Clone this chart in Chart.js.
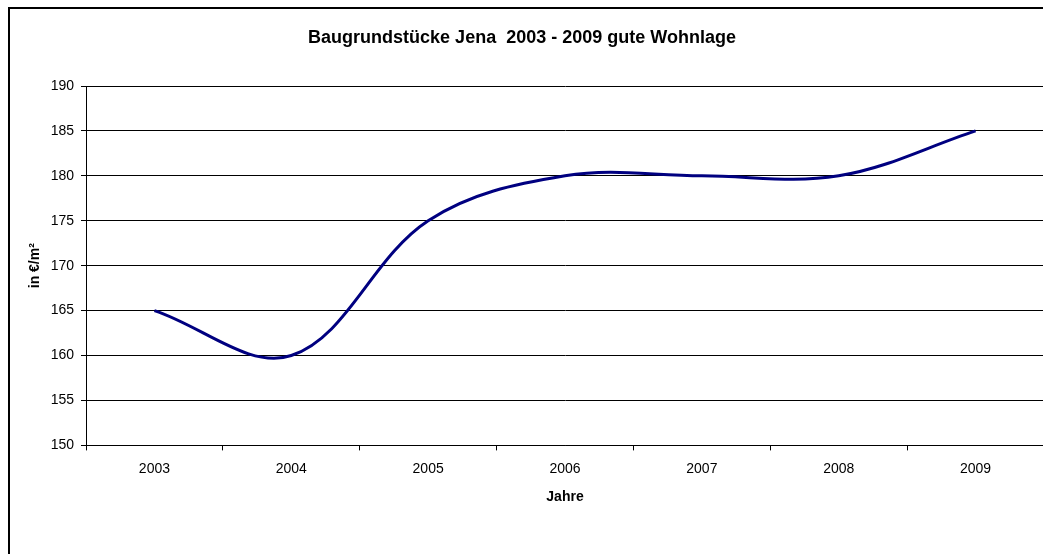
<!DOCTYPE html>
<html>
<head>
<meta charset="utf-8">
<script src="https://cdn.jsdelivr.net/npm/chart.js@4"></script>
<style>
html,body{margin:0;padding:0;background:#fff;overflow:hidden;width:1043px;height:554px;}
#wrap{position:absolute;left:0;top:0;width:1060px;height:554px;}
#frame{position:absolute;left:8px;top:7px;width:2000px;height:2000px;border:2px solid #000;box-sizing:border-box;pointer-events:none;}
</style>
</head>
<body>
<div id="wrap"><canvas id="c" width="1060" height="554"></canvas></div>
<div id="frame"></div>
<script>
const titleText = 'Baugrundstücke Jena  2003 - 2009 gute Wohnlage';
const categories = ['2003', '2004', '2005', '2006', '2007', '2008', '2009'];
const prices = [165, 160, 175, 180, 180, 180, 185];
const yTitle = 'in €/m²';
const xTitle = 'Jahre';

const FONT = "'Liberation Sans', Arial, sans-serif";
Chart.defaults.font.family = FONT;
Chart.defaults.color = '#000';

new Chart(document.getElementById('c'), {
  type: 'line',
  data: {
    labels: categories,
    datasets: [{
      data: prices,
      borderColor: '#000080',
      borderWidth: 3,
      pointRadius: 0,
      tension: 0.36,
      fill: false
    }]
  },
  options: {
    responsive: false,
    animation: false,
    devicePixelRatio: 1,
    layout: { padding: { left: 0, right: 16, top: 0, bottom: 48 } },
    plugins: {
      legend: { display: false },
      tooltip: { enabled: false },
      title: {
        display: true,
        text: titleText,
        color: '#000',
        font: { family: FONT, size: 18, weight: 'bold' },
        padding: { top: 27, bottom: 37.4 }
      }
    },
    scales: {
      x: {
        type: 'category',
        offset: true,
        grid: {
          display: true,
          offset: true,
          drawOnChartArea: false,
          drawTicks: true,
          tickLength: 5,
          color: '#000',
          lineWidth: 1
        },
        border: { display: true, color: '#000', width: 1 },
        ticks: { color: '#000', font: { family: FONT, size: 14 }, padding: 10, maxRotation: 0, autoSkip: false },
        title: {
          display: true,
          text: xTitle,
          color: '#000',
          font: { family: FONT, size: 14, weight: 'bold' },
          padding: { top: 2, bottom: 0 }
        }
      },
      y: {
        min: 150,
        max: 190,
        afterFit: (s) => { s.width = 86; },
        ticks: { stepSize: 5, color: '#000', font: { family: FONT, size: 14 }, padding: 7 },
        grid: {
          color: '#000',
          lineWidth: 1,
          drawTicks: true,
          tickLength: 5
        },
        border: { display: true, color: '#000', width: 1 },
        title: {
          display: true,
          text: yTitle,
          color: '#000',
          font: { family: FONT, size: 14, weight: 'bold' },
          padding: { top: 27, bottom: 0 }
        }
      }
    }
  }
});
</script>
</body>
</html>
